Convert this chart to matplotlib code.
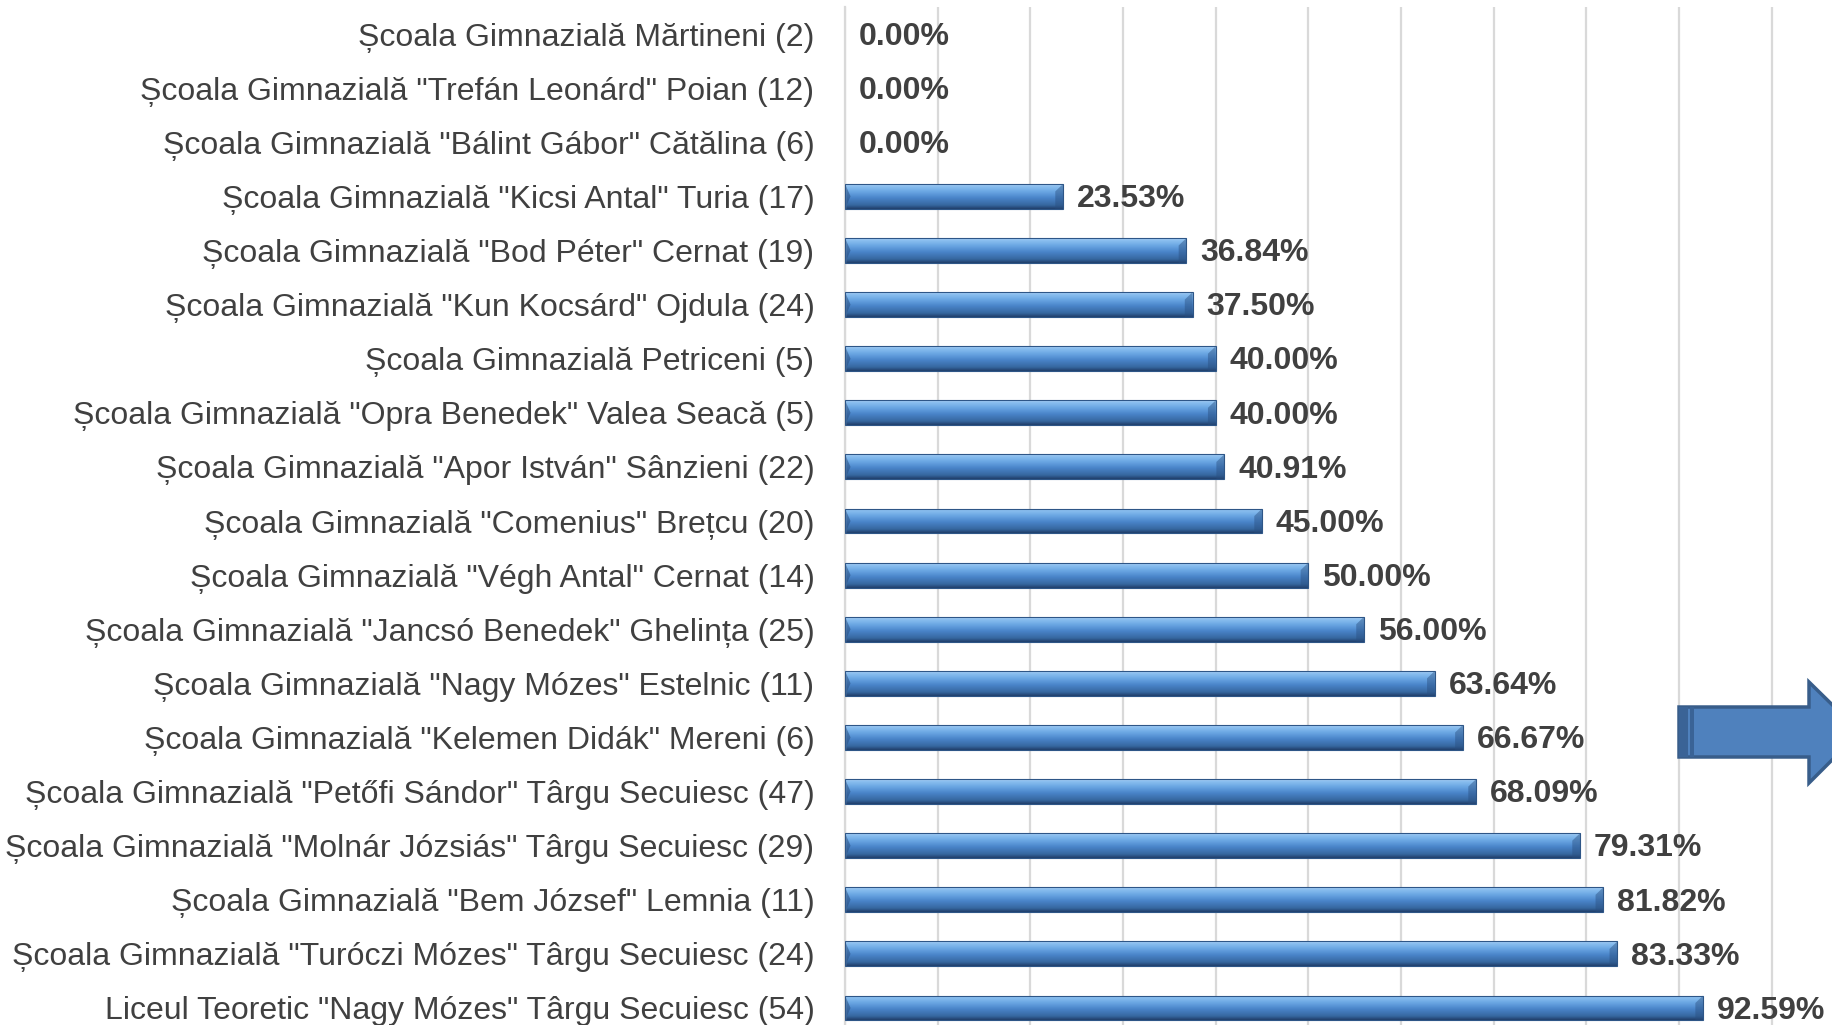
import matplotlib
matplotlib.use("Agg")
import matplotlib.pyplot as plt
import numpy as np
from matplotlib.colors import LinearSegmentedColormap
from matplotlib.patches import Rectangle, Polygon

categories = [
    'Școala Gimnazială Mărtineni (2)',
    'Școala Gimnazială "Trefán Leonárd" Poian (12)',
    'Școala Gimnazială "Bálint Gábor" Cătălina (6)',
    'Școala Gimnazială "Kicsi Antal" Turia (17)',
    'Școala Gimnazială "Bod Péter" Cernat (19)',
    'Școala Gimnazială "Kun Kocsárd" Ojdula (24)',
    'Școala Gimnazială Petriceni (5)',
    'Școala Gimnazială "Opra Benedek" Valea Seacă (5)',
    'Școala Gimnazială "Apor István" Sânzieni (22)',
    'Școala Gimnazială "Comenius" Brețcu (20)',
    'Școala Gimnazială "Végh Antal" Cernat (14)',
    'Școala Gimnazială "Jancsó Benedek" Ghelința (25)',
    'Școala Gimnazială "Nagy Mózes" Estelnic (11)',
    'Școala Gimnazială "Kelemen Didák" Mereni (6)',
    'Școala Gimnazială "Petőfi Sándor" Târgu Secuiesc (47)',
    'Școala Gimnazială "Molnár Józsiás" Târgu Secuiesc (29)',
    'Școala Gimnazială "Bem József" Lemnia (11)',
    'Școala Gimnazială "Turóczi Mózes" Târgu Secuiesc (24)',
    'Liceul Teoretic "Nagy Mózes" Târgu Secuiesc (54)',
]
values = [0.00, 0.00, 0.00, 23.53, 36.84, 37.50, 40.00, 40.00, 40.91, 45.00,
          50.00, 56.00, 63.64, 66.67, 68.09, 79.31, 81.82, 83.33, 92.59]
value_labels = [f"{v:.2f}%" for v in values]
grid_ticks = [0, 10, 20, 30, 40, 50, 60, 70, 80, 90, 100]

plt.rcParams['font.family'] = ['Liberation Sans', 'DejaVu Sans']

W, H = 1833, 1025
fig = plt.figure(figsize=(W / 100, H / 100), dpi=100)
ax_left = 845 / W
ax_top = 1 - 7 / H
ax = fig.add_axes([ax_left, 0, 1 - ax_left, ax_top])

n = len(categories)
ypos = np.arange(n)
bar_h = 0.46

grad = LinearSegmentedColormap.from_list(
    "bar3d",
    [(0.0, "#B3D6F7"), (0.08, "#8CC0F0"), (0.3, "#6AA6E3"),
     (0.55, "#4A85CA"), (0.85, "#36679F"), (1.0, "#213F6B")])
gimg = np.linspace(0, 1, 64).reshape(-1, 1)

for y, v in zip(ypos, values):
    if v <= 0:
        continue
    top = y - bar_h / 2
    bot = y + bar_h / 2
    rect = Rectangle((0, top), v, bar_h, facecolor="none",
                     edgecolor="#2E5687", lw=0.8, zorder=3)
    ax.add_patch(rect)
    im = ax.imshow(gimg, cmap=grad, aspect="auto",
                   extent=(0, v, bot, top), origin="upper",
                   interpolation="bilinear", zorder=2)
    im.set_clip_path(rect)
    bev = 0.6
    ax.add_patch(Polygon([(0, top), (bev, y), (0, bot)], closed=True,
                         facecolor="#2A4F80", alpha=0.55, lw=0, zorder=2.5))
    ax.add_patch(Polygon([(v, top), (v - bev * 1.4, top + bar_h * 0.3),
                          (v - bev * 1.4, bot), (v, bot)], closed=True,
                         facecolor="#2A4F80", alpha=0.45, lw=0, zorder=2.5))

for y, v, lab in zip(ypos, values, value_labels):
    ax.annotate(lab, xy=(v, y), xytext=(10, -2), textcoords="offset points",
                ha="left", va="center", fontsize=23, fontweight="bold",
                color="#404040", zorder=4)

ax.set_xlim(0, 106.6)
ax.set_ylim(18 + 17 / 54, -0.5)
ax.set_xticks(grid_ticks)
ax.set_xticklabels([])
ax.tick_params(axis="x", length=0)
ax.grid(axis="x", color="#D9D9D9", lw=1.6, zorder=0)
ax.set_axisbelow(True)
ax.set_yticks(ypos)
ax.set_yticklabels(categories, fontsize=23, color="#404040")
ax.tick_params(axis="y", length=0, pad=22)
for s in ["top", "right", "bottom"]:
    ax.spines[s].set_visible(False)
ax.spines["left"].set_color("#D9D9D9")
ax.spines["left"].set_linewidth(1.6)

# decorative block arrow (figure pixel coordinates)
def fx(px):
    return px / W

def fy(py):
    return 1 - py / H

arrow = Polygon([(fx(1679), fy(707)), (fx(1809), fy(707)), (fx(1809), fy(682)),
                 (fx(1860), fy(732)), (fx(1809), fy(783)), (fx(1809), fy(757)),
                 (fx(1679), fy(757))], closed=True, transform=fig.transFigure,
                facecolor="#4F81BD", edgecolor="#385D8A", lw=2.5, zorder=5)
fig.add_artist(arrow)
fig.add_artist(Rectangle((fx(1679), fy(757)), fx(1688) - fx(1679), fy(707) - fy(757),
                         transform=fig.transFigure, facecolor="#3A6396", lw=0, zorder=6))
fig.add_artist(Rectangle((fx(1690), fy(757)), fx(1694) - fx(1690), fy(707) - fy(757),
                         transform=fig.transFigure, facecolor="#3A6396", lw=0, zorder=6))

fig.savefig("out.png", dpi=100)
